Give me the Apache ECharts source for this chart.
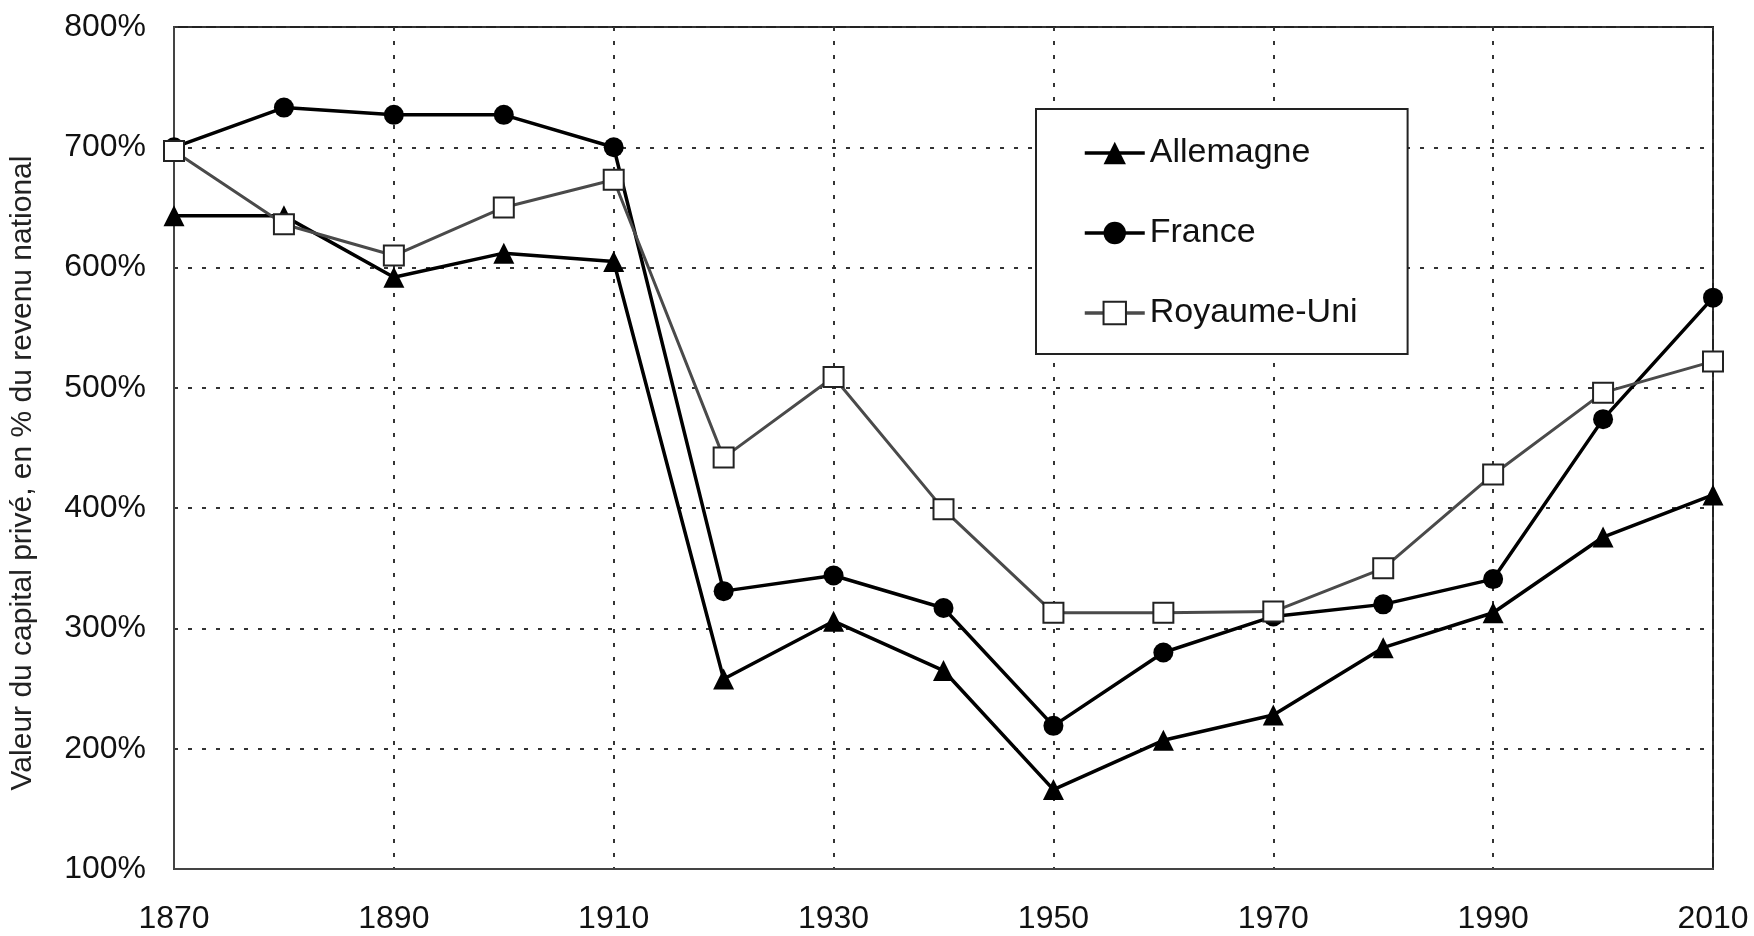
<!DOCTYPE html>
<html lang="fr">
  <head>
    <meta charset="UTF-8" />
    <script
      type="text/javascript"
      src="https://cdn.jsdelivr.net/npm/echarts@6/dist/echarts.min.js"
    ></script>
    <style>
      html,
      body {
        margin: 0;
        overflow: hidden;
        background: #fff;
      }
      #viewport {
        position: absolute;
        left: 0px;
        top: 0px;
        width: 1754px;
        height: 936px;
      }
    </style>
  </head>
  <body>
    <div id="viewport"></div>
    <script>
      // Capital privé / revenu national, 1870-2010
      var years = [1870, 1880, 1890, 1900, 1910, 1920, 1930, 1940, 1950, 1960, 1970, 1980, 1990, 2000, 2010];
      var allemagne = [643, 643, 592, 612, 605, 258, 306, 265, 166, 207, 228, 284, 313, 376, 411];
      var france = [700, 733, 727, 727, 700, 331, 344, 317, 219, 280, 310, 320, 341, 474, 575];
      var royaumeUni = [697, 636, 610, 650, 673, 442, 509, 399, 313, 313, 314, 350, 428, 496, 522];

      var font = 'Liberation Sans, Arial, sans-serif';

      function pairs(values) {
        return years.map(function (y, i) {
          return [y, values[i]];
        });
      }

      var myChart = echarts.init(document.getElementById('viewport'), null, {
        renderer: 'canvas'
      });

      var dotted = { color: '#333', width: 2, type: [4, 10] };

      var option = {
        animation: false,
        backgroundColor: '#fff',
        textStyle: { fontFamily: font },
        grid: {
          left: 171,
          right: 41,
          top: 27,
          bottom: 67,
          show: true,
          borderColor: '#222',
          borderWidth: 2,
          containLabel: false
        },
        legend: {
          orient: 'vertical',
          left: 1036,
          top: 109,
          padding: [27, 50, 24, 47],
          itemGap: 46,
          itemWidth: 60,
          itemHeight: 28,
          borderColor: '#222',
          borderWidth: 2,
          backgroundColor: '#fff',
          lineStyle: { width: 3.5 },
          textStyle: { fontSize: 34, color: '#111', fontFamily: font },
          data: ['Allemagne', 'France', 'Royaume-Uni']
        },
        xAxis: {
          type: 'value',
          min: 1870,
          max: 2010,
          interval: 20,
          axisLine: { show: true, lineStyle: { color: '#444', width: 2 } },
          axisTick: { show: false },
          axisLabel: {
            fontSize: 32,
            color: '#111',
            margin: 34,
            fontFamily: font,
            formatter: function (v) {
              return String(v);
            }
          },
          splitLine: { show: true, lineStyle: dotted }
        },
        yAxis: {
          type: 'value',
          min: 100,
          max: 800,
          interval: 100,
          name: 'Valeur du capital privé, en % du revenu national',
          nameLocation: 'middle',
          nameGap: 136,
          nameTextStyle: {
            fontSize: 30,
            color: '#222',
            fontFamily: font,
            padding: [0, 50, 0, 0]
          },
          axisLine: { show: true, lineStyle: { color: '#444', width: 2 } },
          axisTick: { show: false },
          axisLabel: {
            fontSize: 32,
            color: '#111',
            margin: 28,
            fontFamily: font,
            formatter: '{value}%'
          },
          splitLine: { show: true, lineStyle: dotted }
        },
        series: [
          {
            name: 'Allemagne',
            type: 'line',
            data: pairs(allemagne),
            symbol: 'triangle',
            symbolSize: 21,
            lineStyle: { color: '#000', width: 3.5 },
            itemStyle: { color: '#000' },
            z: 2
          },
          {
            name: 'France',
            type: 'line',
            data: pairs(france),
            symbol: 'circle',
            symbolSize: 20,
            lineStyle: { color: '#000', width: 3.5 },
            itemStyle: { color: '#000' },
            z: 3
          },
          {
            name: 'Royaume-Uni',
            type: 'line',
            data: pairs(royaumeUni),
            symbol: 'rect',
            symbolSize: 20,
            lineStyle: { color: '#4a4a4a', width: 3 },
            itemStyle: { color: '#fff', borderColor: '#222', borderWidth: 2 },
            z: 4
          }
        ]
      };

      myChart.setOption(option);
    </script>
  </body>
</html>
